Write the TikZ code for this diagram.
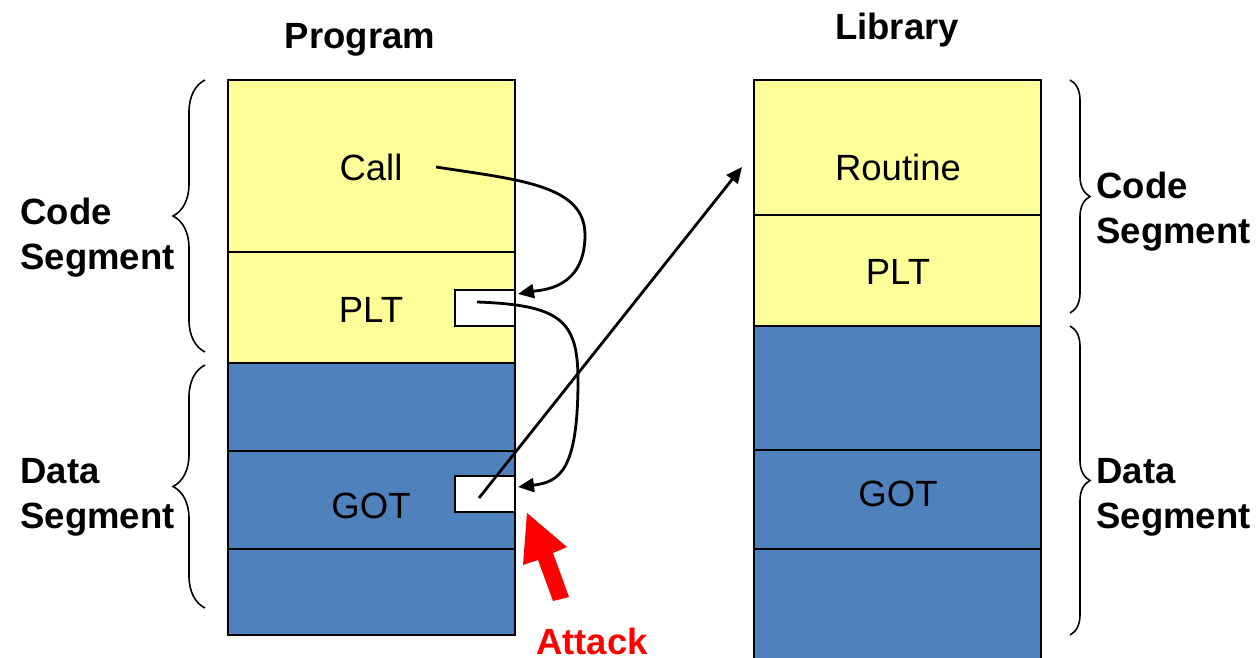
\documentclass[tikz,border=0pt]{standalone}
\usepackage{fontspec}
\setmainfont{Liberation Sans}
\usetikzlibrary{decorations.pathreplacing,arrows.meta,calc}
\definecolor{segyellow}{HTML}{FFFF99}
\definecolor{segblue}{HTML}{4F81BD}
\definecolor{attackred}{HTML}{FF0000}
\begin{document}
\begin{tikzpicture}[x=0.5pt,y=-0.5pt,
  font=\fontsize{18.25}{22.5}\selectfont,
  yseg/.style={draw=black, line width=1pt, fill=segyellow},
  bseg/.style={draw=black, line width=1pt, fill=segblue},
  lbl/.style={inner sep=0pt, anchor=center},
  side/.style={inner sep=0pt, align=left, anchor=west, font=\fontsize{18.25}{22.5}\selectfont\bfseries},
  smallbox/.style={draw=black, line width=1pt, fill=white, minimum width=30pt, minimum height=18pt, inner sep=0pt},
  link/.style={line width=1.4pt, -{Triangle[length=8pt,width=7pt]}},
  bracel/.style={decorate, decoration={brace, amplitude=16pt}, line width=0.8pt},
  bracer/.style={decorate, decoration={brace, amplitude=10pt}, line width=0.8pt}
]
\useasboundingbox (0,0) rectangle (1260,658);

% Program column
\draw[yseg] (228,80) rectangle (515,252);
\draw[yseg] (228,252) rectangle (515,363);
\draw[bseg] (228,363) rectangle (515,451);
\draw[bseg] (228,451) rectangle (515,549);
\draw[bseg] (228,549) rectangle (515,635);

% Library column
\draw[yseg] (754,80) rectangle (1041,215);
\draw[yseg] (754,215) rectangle (1041,326);
\draw[bseg] (754,326) rectangle (1041,450);
\draw[bseg] (754,450) rectangle (1041,549);
\draw[bseg] (754,549) rectangle (1041,664);

% Titles
\node[lbl, font=\fontsize{18.25}{22.5}\selectfont\bfseries] (progtitle) at (360,40) {Program};
\node[lbl, font=\fontsize{18.25}{22.5}\selectfont\bfseries] (libtitle) at (897,30) {Library};

% Segment labels
\node[lbl] (call) at (371,167) {Call};
\node[lbl] (pplt) at (371,310) {PLT};
\node[lbl] (pgot) at (371,506) {GOT};
\node[lbl] (routine) at (898,167) {Routine};
\node[lbl] (lplt) at (898,272) {PLT};
\node[lbl] (lgot) at (898,494) {GOT};

% Small boxes
\node[smallbox] (pltbox) at (485,308) {};
\node[smallbox] (gotbox) at (485,494) {};

% Braces
\draw[bracel] (205,352) -- (205,80);
\draw[bracel] (205,608) -- (205,365);
\draw[bracer] (1070,80) -- (1070,313);
\draw[bracer] (1070,326) -- (1070,635);

% Side labels
\node[side] (lcode) at (20,237.5) {Code\\Segment};
\node[side] (ldata) at (20,497.5) {Data\\Segment};
\node[side] (rcode) at (1096,212) {Code\\Segment};
\node[side] (rdata) at (1096,497.5) {Data\\Segment};

% Connectors
\coordinate (callout) at (436,167);
\coordinate (pltin) at (518,294);
\coordinate (pltout) at (477,302);
\coordinate (gotin) at (518,487);
\coordinate (gotout) at (479,498);
\coordinate (routinein) at (742,167);

\draw[link] (callout) .. controls (520,180) and (585,185) .. (585,235)
  .. controls (585,290) and (540,290) .. (pltin);
\draw[link] (pltout) .. controls (560,305) and (578,320) .. (578,380)
  .. controls (578,470) and (560,482) .. (gotin);
\draw[link] (gotout) -- (routinein);

% Attack arrow
\fill[attackred] (527,513) -- (523,565) -- (538,560) -- (553,601) -- (569,597) -- (553,553) -- (567,547) -- cycle;
\node[lbl, text=attackred, font=\fontsize{18.25}{22.5}\selectfont\bfseries] (attack) at (592,641) {Attack};
\end{tikzpicture}
\end{document}
